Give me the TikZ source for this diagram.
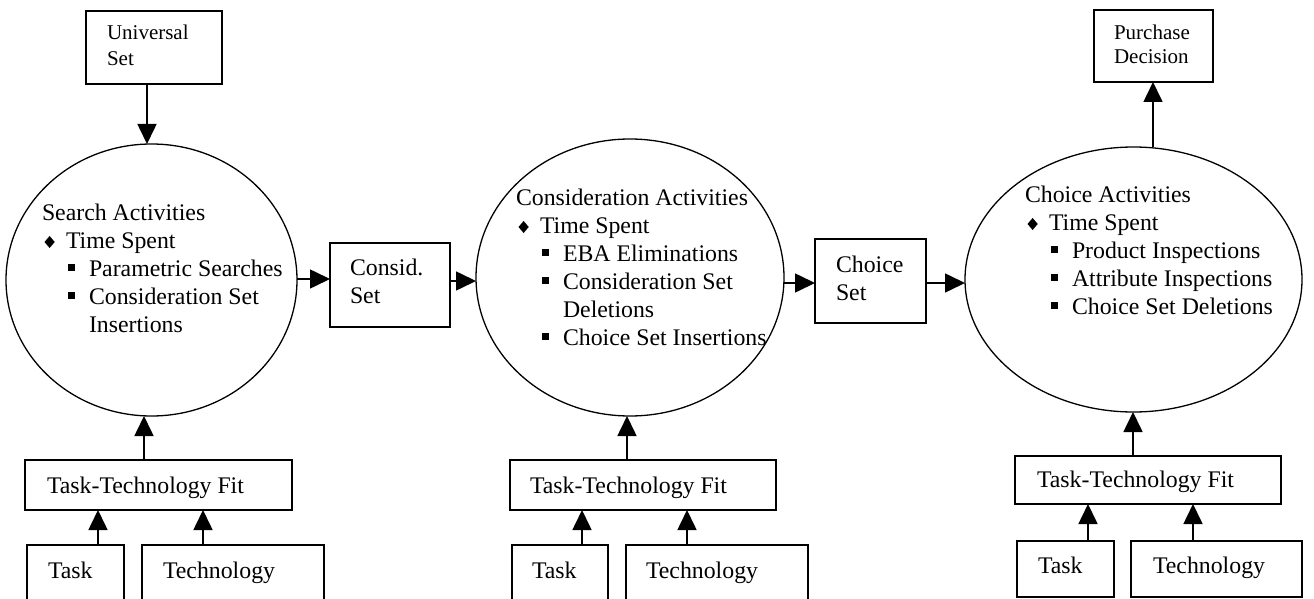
\documentclass[tikz,border=0pt]{standalone}
\usepackage{fontspec}
\setmainfont{Liberation Serif}
\usepackage{graphicx}
\usetikzlibrary{arrows.meta,shapes.geometric}
\newcommand\mydmd{\scalebox{0.85}[1]{\rotatebox{45}{\rule{8.5pt}{8.5pt}}}}
\newcommand\mysq{\rule[5.2pt]{7pt}{7pt}}
\newcommand\bigf{\fontsize{23.8pt}{28pt}\selectfont}
\newcommand\smallf{\fontsize{21pt}{26pt}\selectfont}
\newcommand\smallg{\fontsize{21pt}{24pt}\selectfont}
\newcommand\dmdline[1]{\hspace*{2.5pt}\makebox[21.5pt][l]{\mydmd}#1}
\newcommand\sqline[1]{\hspace*{26pt}\makebox[21pt][l]{\mysq}#1}
\newcommand\contline[1]{\hspace*{47pt}#1}
\begin{document}
\begin{tikzpicture}[x=1pt,y=-1pt,
  box/.style={draw,line width=1.8pt,rectangle,inner sep=0pt,outer sep=0pt},
  oval/.style={draw,line width=1.3pt,ellipse,inner sep=0pt,outer sep=0pt},
  txt/.style={anchor=base west,inner sep=0pt,outer sep=0pt,font=\bigf},
  arr/.style={line width=1.6pt,-{Triangle[length=20pt,width=19pt]}}]
\useasboundingbox (0,0) rectangle (1314,599);
\clip (0,0) rectangle (1314,599);

% ellipses
\node[oval,minimum width=291pt,minimum height=272pt] (c1) at (151.5,280) {};
\node[oval,minimum width=308pt,minimum height=277pt] (c2) at (630,277.5) {};
\node[oval,minimum width=337pt,minimum height=265pt] (c3) at (1133.5,279.5) {};

% boxes
\node[box,minimum width=136pt,minimum height=73pt] (us) at (154,47.5) {};
\node[box,minimum width=119pt,minimum height=72pt] (pd) at (1153.5,46) {};
\node[box,minimum width=120pt,minimum height=84pt] (cs) at (390,285) {};
\node[box,minimum width=111pt,minimum height=84pt] (chs) at (870.5,281) {};
\node[box,minimum width=267pt,minimum height=50pt] (ttf1) at (158.5,485) {};
\node[box,minimum width=266pt,minimum height=50pt] (ttf2) at (643,485) {};
\node[box,minimum width=266pt,minimum height=48pt] (ttf3) at (1148,480) {};
\node[box,minimum width=97pt,minimum height=75pt] (task1) at (75.5,582.5) {};
\node[box,minimum width=182pt,minimum height=75pt] (tech1) at (233,582.5) {};
\node[box,minimum width=96pt,minimum height=75pt] (task2) at (560,582.5) {};
\node[box,minimum width=182pt,minimum height=75pt] (tech2) at (717,582.5) {};
\node[box,minimum width=97pt,minimum height=56pt] (task3) at (1065.5,569) {};
\node[box,minimum width=171pt,minimum height=56pt] (tech3) at (1216.5,569) {};

% texts
\node[txt,font=\smallf] (ust) at (107,40) {\begin{tabular}[t]{@{}l@{}}Universal\\Set\end{tabular}};
\node[txt,font=\smallg] (pdt) at (1114,40) {\begin{tabular}[t]{@{}l@{}}Purchase\\Decision\end{tabular}};
\node[txt] (cst) at (350,275) {\begin{tabular}[t]{@{}l@{}}Consid.\\Set\end{tabular}};
\node[txt] (chst) at (836,272) {\begin{tabular}[t]{@{}l@{}}Choice\\Set\end{tabular}};
\node[txt] (c1t) at (42,220) {\begin{tabular}[t]{@{}l@{}}Search Activities\\
  \dmdline{Time Spent}\\ \sqline{Parametric Searches}\\ \sqline{Consideration Set}\\ \contline{Insertions}\end{tabular}};
\node[txt] (c2t) at (516,205) {\begin{tabular}[t]{@{}l@{}}Consideration Activities\\
  \dmdline{Time Spent}\\ \sqline{EBA Eliminations}\\ \sqline{Consideration Set}\\ \contline{Deletions}\\ \sqline{Choice Set Insertions}\end{tabular}};
\node[txt] (c3t) at (1025,202) {\begin{tabular}[t]{@{}l@{}}Choice Activities\\
  \dmdline{Time Spent}\\ \sqline{Product Inspections}\\ \sqline{Attribute Inspections}\\ \sqline{Choice Set Deletions}\end{tabular}};
\node[txt] (ttf1t) at (47,493) {Task-Technology Fit};
\node[txt] (ttf2t) at (530,493) {Task-Technology Fit};
\node[txt] (ttf3t) at (1037,487) {Task-Technology Fit};
\node[txt] (task1t) at (48,578) {Task};
\node[txt] (tech1t) at (163,578) {Technology};
\node[txt] (task2t) at (532,578) {Task};
\node[txt] (tech2t) at (646,578) {Technology};
\node[txt] (task3t) at (1038,573) {Task};
\node[txt] (tech3t) at (1153,573) {Technology};

% arrow positions
\coordinate (ax0) at (147,0);
\coordinate (ay1) at (0,279);
\coordinate (ay2) at (0,281);
\coordinate (ay3) at (0,283);
\coordinate (bx1) at (144,0);
\coordinate (bx2) at (627,0);
\coordinate (bx3) at (1133,0);
\coordinate (px) at (1153,0);
\coordinate (k1) at (98,0);
\coordinate (t1) at (203,0);
\coordinate (k2) at (582,0);
\coordinate (t2) at (687,0);
\coordinate (k3) at (1088,0);
\coordinate (t3) at (1193,0);

% connectors
\draw[arr] (us.south -| ax0) -- (c1.north -| ax0);
\draw[arr] (c1.east |- ay1) -- (cs.west |- ay1);
\draw[arr] (cs.east |- ay2) -- (c2.west |- ay2);
\draw[arr] (c2.east |- ay3) -- (chs.west |- ay3);
\draw[arr] (chs.east |- ay3) -- (c3.west |- ay3);
\draw[arr] (c3.north -| px) -- (pd.south -| px);
\draw[arr] (ttf1.north -| bx1) -- (c1.south -| bx1);
\draw[arr] (ttf2.north -| bx2) -- (c2.south -| bx2);
\draw[arr] (ttf3.north -| bx3) -- (c3.south -| bx3);
\draw[arr] (task1.north -| k1) -- (ttf1.south -| k1);
\draw[arr] (tech1.north -| t1) -- (ttf1.south -| t1);
\draw[arr] (task2.north -| k2) -- (ttf2.south -| k2);
\draw[arr] (tech2.north -| t2) -- (ttf2.south -| t2);
\draw[arr] (task3.north -| k3) -- (ttf3.south -| k3);
\draw[arr] (tech3.north -| t3) -- (ttf3.south -| t3);
\end{tikzpicture}
\end{document}
